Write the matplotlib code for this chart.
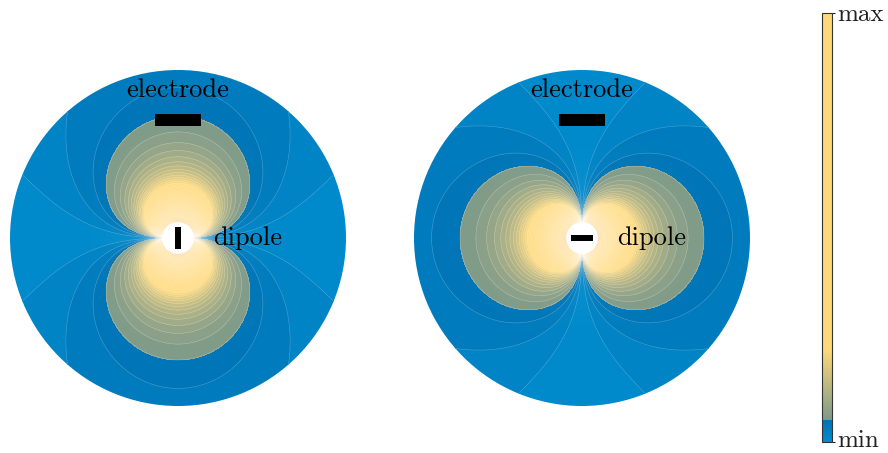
import numpy as np
import matplotlib
import matplotlib.pyplot as plt
from matplotlib.colors import LinearSegmentedColormap, Normalize
from matplotlib.patches import Circle, Rectangle

plt.rcParams['font.family'] = 'cmr10'
plt.rcParams['axes.unicode_minus'] = False

# dipole potential in a unit disc: |cos(theta)| * (1/r^2 + k*r)
boundary_term = 0.5
level_step = 0.565
n_levels = 200
n_sharp = 18              # lines above this level fade out as they crowd together
cbar_levels = 80          # colour range spans this many level steps

# colour map stops (fraction of colour range) and colours
cmap_stops = [0.0, 0.049, 0.05, 0.215, 1.0]
cmap_colors = ['#008ccd', '#0073b5', '#7d998a', '#ffd978', '#ffd978']

panel_names = ['vertical', 'horizontal']
dipole_angles = [90, 0]   # degrees, orientation of the dipole in each panel
label_electrode = 'electrode'
label_dipole = 'dipole'
cbar_labels = ['min', 'max']

cmap = LinearSegmentedColormap.from_list('dipole', list(zip(cmap_stops, cmap_colors)))
vmax = cbar_levels * level_step
norm = Normalize(0, vmax)
levels = level_step * np.arange(n_levels + 1)

k = np.arange(1, n_levels + 1)
line_alpha = np.where(k <= n_sharp, 0.3, 0.3 * (n_sharp / k) ** 0.9)
line_colors = [(1, 1, 1, a) for a in line_alpha]


def dipole_potential(xx, yy, angle):
    r = np.maximum(np.hypot(xx, yy), 1e-3)
    a = np.radians(angle)
    c = np.abs(xx * np.cos(a) + yy * np.sin(a)) / r
    return c * (1 / r**2 + boundary_term * r)


lim = 1.05
g = np.linspace(-lim, lim, 1200)
xx, yy = np.meshgrid(g, g)

W, H = 888, 453
fig = plt.figure(figsize=(W / 100, H / 100), dpi=100)

R = 168          # disc radius in pixels
half = lim * R
centres = [(178, 238), (582, 238)]

for (cx, cy), name, ang in zip(centres, panel_names, dipole_angles):
    ax = fig.add_axes([(cx - half) / W, (H - cy - half) / H, 2 * half / W, 2 * half / H])
    ax.set_xlim(-lim, lim)
    ax.set_ylim(-lim, lim)
    ax.set_aspect('equal')
    ax.axis('off')

    v = dipole_potential(xx, yy, ang)
    v = np.minimum(v, levels[-1] * 0.999)
    cs = ax.contourf(xx, yy, v, levels=levels, cmap=cmap, norm=norm)
    cs.set_clip_path(Circle((0, 0), 1, transform=ax.transData))
    cl = ax.contour(xx, yy, v, levels=levels[1:], colors=line_colors, linewidths=0.4)
    cl.set_clip_path(Circle((0, 0), 1, transform=ax.transData))

    # where the contour seams crowd together they wash the fill out towards white
    gy, gx = np.gradient(v, g, g)
    density = np.hypot(gx, gy) / (R * level_step)
    haze = np.zeros(v.shape + (4,))
    haze[..., :3] = 1.0
    haze[..., 3] = 0.3 * (1 - np.exp(-density / 2.0))
    im = ax.imshow(haze, extent=[-lim, lim, -lim, lim], origin='lower',
                   interpolation='bilinear', zorder=3)
    im.set_clip_path(Circle((0, 0), 1, transform=ax.transData))

    # dipole marker
    ax.add_patch(Circle((0, 0), 0.095, fc='white', ec='none', zorder=5))
    if name == 'vertical':
        ax.add_patch(Rectangle((-0.016, -0.065), 0.032, 0.13, fc='black', zorder=6))
    else:
        ax.add_patch(Rectangle((-0.068, -0.02), 0.136, 0.04, fc='black', zorder=6))

    # electrode
    ax.add_patch(Rectangle((-0.135, 0.668), 0.27, 0.07, fc='black', zorder=6))
    ax.text(0, 0.839, label_electrode, ha='center', va='baseline', fontsize=19, zorder=7)
    ax.text(0.21, -0.042, label_dipole, ha='left', va='baseline', fontsize=19, zorder=7)

cax = fig.add_axes([822 / W, (H - 442) / H, 10 / W, 429 / H])
cb = fig.colorbar(matplotlib.cm.ScalarMappable(norm=norm, cmap=cmap), cax=cax)
cb.set_ticks([0, vmax])
cb.set_ticklabels(['', ''])
cb.outline.set_edgecolor('#333333')
cb.outline.set_linewidth(0.8)
cax.tick_params(length=2, width=0.8, colors='#222222')
cax.text(1.55, -0.0105, cbar_labels[0], transform=cax.transAxes, ha='left', va='baseline',
         fontsize=18, color='#222222')
cax.text(1.55, 0.982, cbar_labels[1], transform=cax.transAxes, ha='left', va='baseline',
         fontsize=18, color='#222222')

fig.savefig('out.png', dpi=100)
